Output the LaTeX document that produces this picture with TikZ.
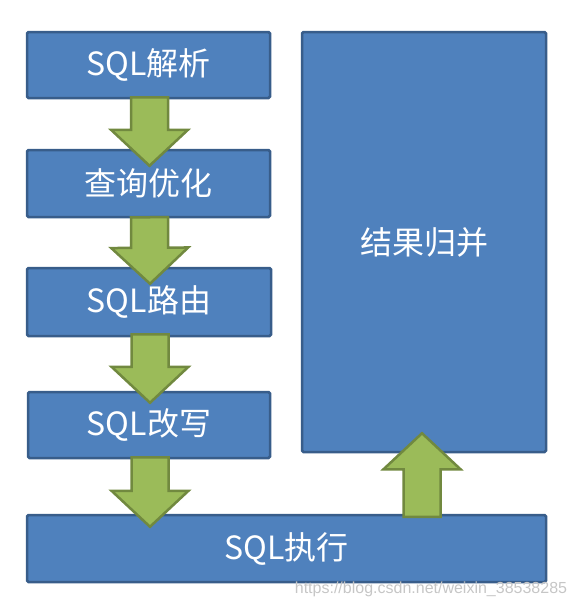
\documentclass[tikz,border=0pt]{standalone}
\usepackage{fontspec}
\setmainfont{Noto Sans CJK SC}
\newfontfamily\wmfont{Liberation Sans}
\usetikzlibrary{calc}

\definecolor{boxblue}{HTML}{4F81BD}
\definecolor{boxline}{HTML}{385D8A}
\definecolor{arrgreen}{HTML}{9BBB59}
\definecolor{arrline}{HTML}{71893F}

\tikzset{
  stage/.style={draw=boxline,fill=boxblue,line width=2.5pt,rounded corners=1.5pt,
    text=white,font=\fontsize{32}{38}\selectfont,inner sep=0pt},
  arrbody/.style={draw=arrline,fill=arrgreen,line width=2.5pt,line join=miter}
}

% dicker Pfeil von #1 nach #2
\newcommand{\fatarrow}[2]{%
  \coordinate (hb) at ($(#2)!36pt!(#1)$);
  \filldraw[arrbody] ($(#1)!18.5pt!90:(#2)$) -- ($(hb)!18.5pt!-90:(#1)$)
    -- ($(hb)!38.5pt!-90:(#1)$) -- (#2) -- ($(hb)!38.5pt!90:(#1)$)
    -- ($(hb)!18.5pt!90:(#1)$) -- ($(#1)!18.5pt!-90:(#2)$) -- cycle;
}

\begin{document}
\begin{tikzpicture}[x=1pt,y=-1pt]
  \useasboundingbox (0,0) rectangle (576,606);

  %linke Spalte
  	\node[stage,minimum width=243pt,minimum height=66pt] (parse) at (148.5,65) {SQL解析};
  	\node[stage,minimum width=243pt,minimum height=67pt] (optim) at (148.5,183.5) {查询优化};
  	\node[stage,minimum width=244pt,minimum height=68pt] (route) at (149,302) {SQL路由};
  	\node[stage,minimum width=242pt,minimum height=66pt] (rewrite) at (149,425) {SQL改写};
  %unten
  	\node[stage,minimum width=519pt,minimum height=67pt] (exec) at (286.5,548.5) {SQL执行};
  %rechts
  	\node[stage,minimum width=244pt,minimum height=420pt] (merge) at (424,242) {结果归并};

  %Pfeile nach unten
  	\fatarrow{[xshift=1pt,yshift=2pt]parse.south}{[xshift=1pt,yshift=-17pt]optim.north}
  	\fatarrow{[xshift=1pt,yshift=1pt]optim.south}{[xshift=1pt,yshift=-17pt]route.north}
  	\fatarrow{[xshift=1pt,yshift=3pt]route.south}{[xshift=1pt,yshift=-12pt]rewrite.north}
  	\coordinate (down4) at (exec.north -| rewrite.south);
  	\fatarrow{[xshift=1pt,yshift=2pt]rewrite.south}{[xshift=1pt,yshift=-13pt]down4}
  %Pfeil nach oben
  	\coordinate (up0) at (exec.north -| merge.south);
  	\fatarrow{[xshift=-2pt,yshift=-3pt]up0}{[xshift=-2pt,yshift=20pt]merge.south}

  %Wasserzeichen
  	\node[text=gray!45,font=\wmfont\fontsize{16}{18}\selectfont,anchor=base,inner sep=0pt]
  	  (mark) at (431,593) {https://blog.csdn.net/weixin\_38538285};
\end{tikzpicture}
\end{document}
